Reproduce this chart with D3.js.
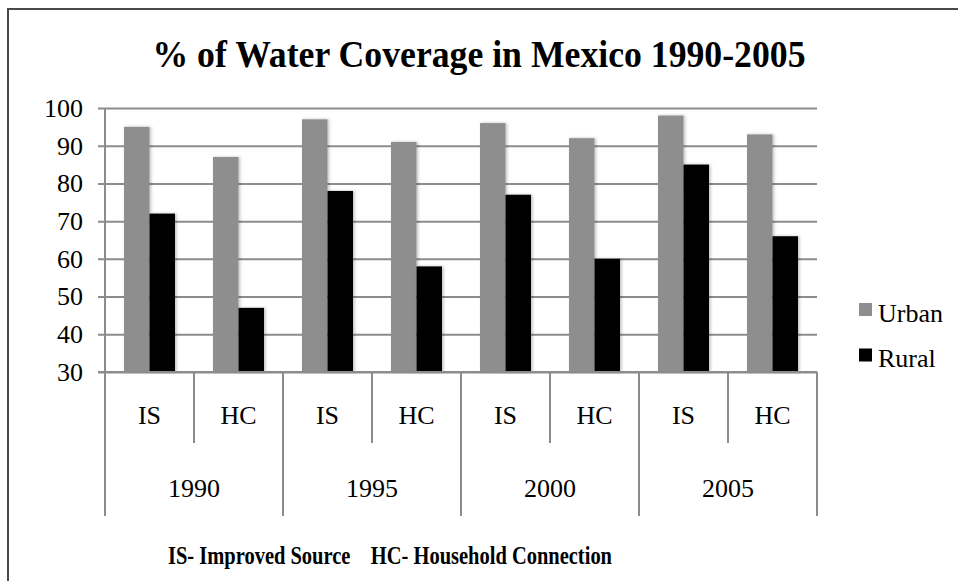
<!DOCTYPE html>
<html>
<head>
<meta charset="utf-8">
<script src="https://cdn.jsdelivr.net/npm/d3@7"></script>
<style>
  html, body { margin: 0; padding: 0; background: #fff; }
  svg { display: block; }
  svg text { font-family: "Liberation Serif", "Times New Roman", serif !important; fill: #000; }
</style>
</head>
<body>
<svg id="chart" width="958" height="581"></svg>
<script>
// ---- data ----
const years = ["1990", "1995", "2000", "2005"];
const types = ["IS", "HC"];
const seriesNames = ["Urban", "Rural"];
const urban = [95, 87, 97, 91, 96, 92, 98, 93];
const rural = [72, 47, 78, 58, 77, 60, 85, 66];
const yTicks = [30, 40, 50, 60, 70, 80, 90, 100];
const title = "% of Water Coverage in Mexico 1990-2005";
const footnote = "IS- Improved Source    HC- Household Connection";

// build categories (year x type)
const cats = [];
years.forEach(y => types.forEach(t => cats.push({ key: y + "-" + t, year: y, type: t })));
const rows = cats.map((c, i) => ({ ...c, Urban: urban[i], Rural: rural[i] }));

const svg = d3.select("#chart");
const gridColor = "#8c8c8c";
const colors = { Urban: "#8e8e8e", Rural: "#000000" };
const serif = "'Liberation Serif', 'Times New Roman', serif";

// soft bar shadow
const defs = svg.append("defs");
const f = defs.append("filter").attr("id", "shadow").attr("x", "-20%").attr("y", "-5%").attr("width", "150%").attr("height", "110%");
f.append("feDropShadow").attr("dx", 1.5).attr("dy", 0).attr("stdDeviation", 1.5)
  .attr("flood-color", "#000").attr("flood-opacity", 0.25);

// outer frame
svg.append("rect").attr("x", 8).attr("y", 9).attr("width", 1000).attr("height", 1000)
  .attr("fill", "none").attr("stroke", "#4a4a4a").attr("stroke-width", 2);

const x = d3.scaleBand().domain(cats.map(c => c.key)).range([105, 817]).padding(0);
const xs = d3.scaleBand().domain(seriesNames).range([0, x.bandwidth()]).paddingInner(0).paddingOuter(0.745);
const y = d3.scaleLinear().domain([30, 100]).range([372, 108]);

// gridlines + y ticks
const yAxis = d3.axisLeft(y).tickValues(yTicks).tickSize(-(817 - 98)).tickFormat(d3.format("d")).tickPadding(15);
const gy = svg.append("g").attr("transform", "translate(98,0)").call(yAxis)
  .attr("font-family", null).attr("font-size", null);
gy.select(".domain").remove();
gy.selectAll(".tick line").attr("stroke", gridColor).attr("stroke-width", 2);
gy.selectAll(".tick text").style("font-family", serif).style("font-size", "26px").attr("fill", "#000");

// y axis line
svg.append("line").attr("x1", 105).attr("x2", 105).attr("y1", y(100)).attr("y2", y(30))
  .attr("stroke", gridColor).attr("stroke-width", 2);

// bars
const g = svg.append("g");
seriesNames.forEach(s => {
  g.selectAll(".bar-" + s).data(rows).enter().append("rect")
    .attr("x", d => x(d.key) + xs(s))
    .attr("width", xs.bandwidth())
    .attr("y", d => y(d[s]))
    .attr("height", d => y(30) - y(d[s]))
    .attr("fill", colors[s])
    .attr("filter", "url(#shadow)");
});

// x axis baseline
svg.append("line").attr("x1", 98).attr("x2", 817).attr("y1", y(30)).attr("y2", y(30))
  .attr("stroke", gridColor).attr("stroke-width", 2);

// category separators
cats.forEach((c, i) => {
  const xx = x(c.key);
  const isYearStart = i % types.length === 0;
  svg.append("line").attr("x1", xx).attr("x2", xx).attr("y1", y(30)).attr("y2", isYearStart ? 516 : 443)
    .attr("stroke", gridColor).attr("stroke-width", 2);
});
svg.append("line").attr("x1", 817).attr("x2", 817).attr("y1", y(30)).attr("y2", 516)
  .attr("stroke", gridColor).attr("stroke-width", 2);

// category labels
svg.selectAll(".typeLabel").data(cats).enter().append("text")
  .attr("x", d => x(d.key) + x.bandwidth() / 2)
  .attr("y", 424)
  .attr("text-anchor", "middle")
  .style("font-size", "26px")
  .text(d => d.type);

svg.selectAll(".yearLabel").data(years).enter().append("text")
  .attr("x", d => x(d + "-" + types[0]) + x.bandwidth())
  .attr("y", 497)
  .attr("text-anchor", "middle")
  .style("font-size", "26px")
  .text(d => d);

// title
svg.append("text").attr("x", 479).attr("y", 67).attr("text-anchor", "middle")
  .style("font-size", "37px").attr("font-weight", "bold")
  .attr("textLength", 653).attr("lengthAdjust", "spacingAndGlyphs")
  .text(title);

// footnote
svg.append("text").attr("x", 168).attr("y", 564)
  .style("font-size", "25px").attr("font-weight", "bold")
  .style("white-space", "pre")
  .attr("textLength", 444).attr("lengthAdjust", "spacingAndGlyphs")
  .text(footnote);

// legend
const legendY = [309.5, 355];
seriesNames.forEach((s, i) => {
  svg.append("rect").attr("x", 859).attr("y", legendY[i] - 6.5).attr("width", 13).attr("height", 13)
    .attr("fill", colors[s]);
  svg.append("text").attr("x", 878).attr("y", legendY[i] + 12)
    .style("font-size", "26px").text(s);
});
</script>
</body>
</html>
